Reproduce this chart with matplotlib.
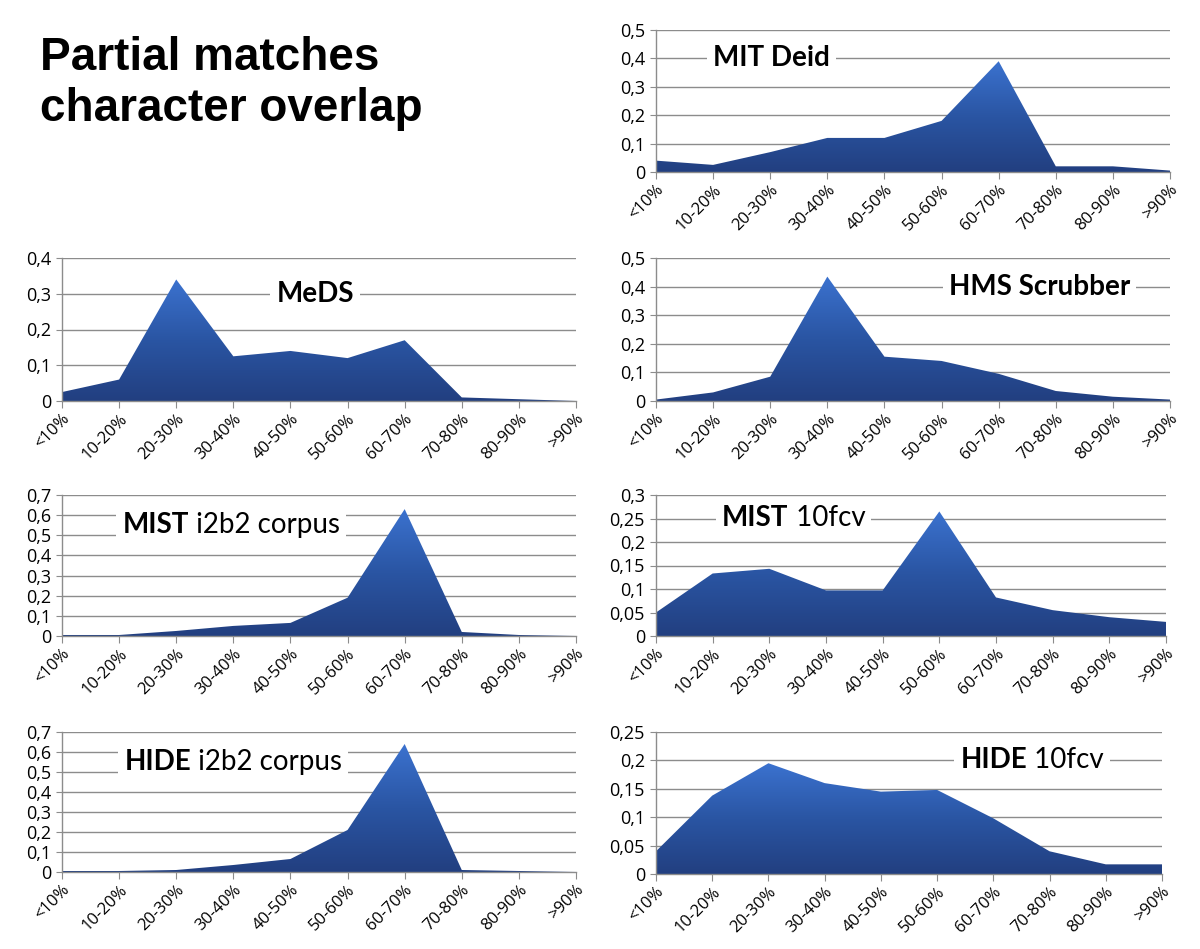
import numpy as np
import matplotlib
matplotlib.use("Agg")
import matplotlib.pyplot as plt
from matplotlib.colors import LinearSegmentedColormap
from matplotlib.patches import PathPatch, Rectangle

categories = ["<10%", "10-20%", "20-30%", "30-40%", "40-50%", "50-60%",
              "60-70%", "70-80%", "80-90%", ">90%"]

mit_deid = [0.04, 0.025, 0.07, 0.12, 0.12, 0.18, 0.39, 0.02, 0.02, 0.005]
meds = [0.025, 0.06, 0.34, 0.125, 0.14, 0.12, 0.17, 0.01, 0.005, 0.0]
hms_scrubber = [0.005, 0.03, 0.085, 0.435, 0.155, 0.14, 0.095, 0.035, 0.015, 0.005]
mist_i2b2 = [0.005, 0.005, 0.025, 0.05, 0.065, 0.19, 0.63, 0.02, 0.005, 0.0]
mist_10fcv = [0.05, 0.133, 0.143, 0.097, 0.097, 0.265, 0.082, 0.055, 0.04, 0.03]
hide_i2b2 = [0.005, 0.005, 0.01, 0.035, 0.065, 0.21, 0.64, 0.01, 0.005, 0.0]
hide_10fcv = [0.04, 0.138, 0.195, 0.16, 0.145, 0.148, 0.098, 0.04, 0.017, 0.017]

ticks_05 = [0, 0.1, 0.2, 0.3, 0.4, 0.5]
labels_05 = ["0", "0,1", "0,2", "0,3", "0,4", "0,5"]
ticks_04 = [0, 0.1, 0.2, 0.3, 0.4]
labels_04 = ["0", "0,1", "0,2", "0,3", "0,4"]
ticks_07 = [0, 0.1, 0.2, 0.3, 0.4, 0.5, 0.6, 0.7]
labels_07 = ["0", "0,1", "0,2", "0,3", "0,4", "0,5", "0,6", "0,7"]
ticks_03 = [0, 0.05, 0.1, 0.15, 0.2, 0.25, 0.3]
labels_03 = ["0", "0,05", "0,1", "0,15", "0,2", "0,25", "0,3"]
ticks_025 = [0, 0.05, 0.1, 0.15, 0.2, 0.25]
labels_025 = ["0", "0,05", "0,1", "0,15", "0,2", "0,25"]

title_text = "Partial matches\ncharacter overlap"

W, H = 1200, 949
fig = plt.figure(figsize=(W / 100, H / 100), dpi=100)
fig.patch.set_facecolor("white")


def rect(l, r, top, bottom):
    return [l / W, 1 - bottom / H, (r - l) / W, (bottom - top) / H]


cmap = LinearSegmentedColormap.from_list("g", ["#223f80", "#2a55a3", "#3b72cf"])

panels = [
    (rect(656, 1170, 30, 172), mit_deid, ticks_05, labels_05,
     [("MIT Deid", "bold")], (2.03, 0.4)),
    (rect(62, 576, 258, 401), meds, ticks_04, labels_04,
     [("MeDS", "bold")], (4.43, 0.3)),
    (rect(656, 1170, 258, 401), hms_scrubber, ticks_05, labels_05,
     [("HMS Scrubber", "bold")], (6.72, 0.4)),
    (rect(62, 576, 495, 636), mist_i2b2, ticks_07, labels_07,
     [("MIST", "bold"), (" i2b2 corpus", "normal")], (2.96, 0.55)),
    (rect(656, 1166, 495, 636), mist_10fcv, ticks_03, labels_03,
     [("MIST", "bold"), (" 10fcv", "normal")], (2.43, 0.25)),
    (rect(62, 576, 732, 872), hide_i2b2, ticks_07, labels_07,
     [("HIDE", "bold"), (" i2b2 corpus", "normal")], (3.0, 0.55)),
    (rect(656, 1162, 732, 874), hide_10fcv, ticks_025, labels_025,
     [("HIDE", "bold"), (" 10fcv", "normal")], (6.69, 0.2)),
]

grid_color = "#8c8c8c"
lab_font = ["Lato", "DejaVu Sans"]
tick_font = ["Open Sans", "DejaVu Sans"]
LFS = 20
x = np.arange(len(categories))
renderer = fig.canvas.get_renderer()

for pos, vals, yt, yl, label_parts, lpos in panels:
    ax = fig.add_axes(pos)
    vals = np.asarray(vals)
    ymax = yt[-1]
    ax.set_xlim(0, len(categories) - 1)
    ax.set_ylim(0, ymax)
    for t in yt[1:]:
        ax.axhline(t, color=grid_color, lw=1.0, zorder=0)
    poly = ax.fill_between(x, vals, 0, facecolor="none", edgecolor="none")
    path = poly.get_paths()[0]
    patch = PathPatch(path, facecolor="none", edgecolor="none", transform=ax.transData)
    ax.add_patch(patch)
    grad = np.linspace(0, 1, 256).reshape(-1, 1)
    im = ax.imshow(grad, cmap=cmap, origin="lower", aspect="auto",
                   extent=[0, len(categories) - 1, 0, vals.max()], zorder=2)
    im.set_clip_path(patch)
    ax.set_xlim(0, len(categories) - 1)
    ax.set_ylim(0, ymax)

    ax.set_xticks(x)
    ax.set_xticklabels(categories, rotation=45, ha="right", rotation_mode="anchor",
                       fontsize=12, family=tick_font)
    ax.set_yticks(yt)
    ax.set_yticklabels(yl, fontsize=13, family=tick_font)
    ax.tick_params(axis="x", length=5, color=grid_color, pad=2)
    ax.tick_params(axis="y", length=4, color=grid_color, pad=4)
    for s in ["top", "right"]:
        ax.spines[s].set_visible(False)
    for s in ["left", "bottom"]:
        ax.spines[s].set_color(grid_color)
        ax.spines[s].set_linewidth(1.0)
        ax.spines[s].set_zorder(3)

    # label parts, laid out side by side, centred at lpos
    texts = []
    for txt, wt in label_parts:
        texts.append(ax.text(0, lpos[1], txt, fontsize=LFS, fontweight=wt,
                             family=lab_font, ha="left", va="center", zorder=6))
    widths = [t.get_window_extent(renderer).width for t in texts]
    total = sum(widths)
    cx, cy = ax.transData.transform((lpos[0], lpos[1]))
    start = cx - total / 2
    inv = ax.transData.inverted()
    xx = start
    for t, w in zip(texts, widths):
        t.set_x(inv.transform((xx, cy))[0])
        xx += w
    # white box behind
    bbs = [t.get_window_extent(renderer) for t in texts]
    y0 = min(b.y0 for b in bbs) - 3
    y1 = max(b.y1 for b in bbs) + 3
    x0 = start - 6
    x1 = start + total + 6
    (dx0, dy0) = inv.transform((x0, y0))
    (dx1, dy1) = inv.transform((x1, y1))
    ax.add_patch(Rectangle((dx0, dy0), dx1 - dx0, dy1 - dy0, facecolor="white",
                           edgecolor="none", zorder=4))

fig.text(40 / W, 1 - 36 / H, title_text, fontsize=33, fontweight="bold",
         family=["Liberation Sans", "DejaVu Sans"], ha="left", va="top",
         linespacing=1.2)

fig.savefig("out.png", dpi=100, facecolor="white")
